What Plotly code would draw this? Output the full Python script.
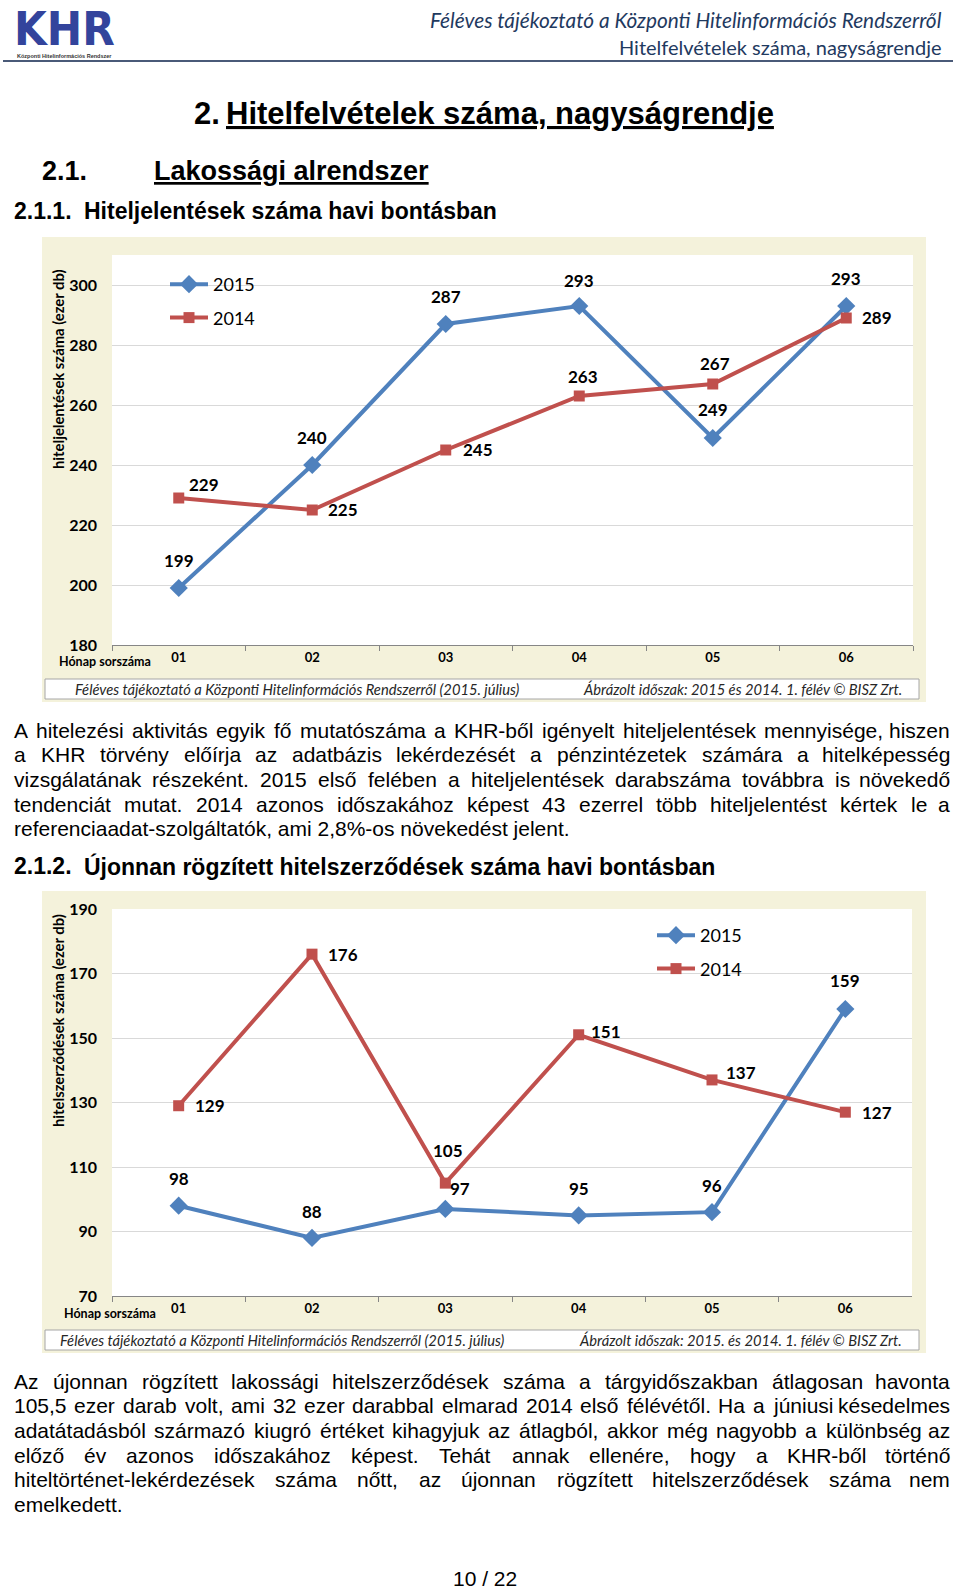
import unicodedata
import plotly.graph_objects as go

# ---------------- data ----------------
months = ['01', '02', '03', '04', '05', '06']
reports_2015 = [199, 240, 287, 293, 249, 293]
reports_2014 = [229, 225, 245, 263, 267, 289]
contracts_2015 = [98, 88, 97, 95, 96, 159]
contracts_2014 = [129, 176, 105, 151, 137, 127]
series_names = ['2015', '2014']

para1 = [
    "A hitelezési aktivitás egyik fő mutatószáma a KHR-ből igényelt hiteljelentések mennyisége, hiszen",
    "a KHR törvény előírja az adatbázis lekérdezését a pénzintézetek számára a hitelképesség",
    "vizsgálatának részeként. 2015 első felében a hiteljelentések darabszáma továbbra is növekedő",
    "tendenciát mutat. 2014 azonos időszakához képest 43 ezerrel több hiteljelentést kértek le a",
    "referenciaadat-szolgáltatók, ami 2,8%-os növekedést jelent.",
]
para2 = [
    "Az újonnan rögzített lakossági hitelszerződések száma a tárgyidőszakban átlagosan havonta",
    "105,5 ezer darab volt, ami 32 ezer darabbal elmarad 2014 első félévétől. Ha a júniusi késedelmes",
    "adatátadásból származó kiugró értéket kihagyjuk az átlagból, akkor még nagyobb a különbség az",
    "előző év azonos időszakához képest. Tehát annak ellenére, hogy a KHR-ből történő",
    "hiteltörténet-lekérdezések száma nőtt, az újonnan rögzített hitelszerződések száma nem",
    "emelkedett.",
]

# ---------------- styles / geometry ----------------
FIG_W, FIG_H = 960, 1589
BLUE, RED = '#4F81BD', '#C0504D'
BEIGE = '#F4F2DB'
CHART_FONT = 'Lato, Carlito, Calibri, sans-serif'
DOC_FONT = 'Liberation Sans, Arial, sans-serif'

# label offsets (px) for data labels: (dx, dy up)
off_r15 = [(0, 28), (0, 27), (0, 27), (0, 25), (0, 28), (0, 27)]
off_r14 = [(25, 13), (31, 0), (32, 0), (4, 19), (2, 20), (31, 0)]
off_c15 = [(0, 27), (0, 26), (15, 20), (0, 27), (0, 27), (0, 28)]
off_c14 = [(31, 0), (31, 0), (3, 33), (27, 3), (29, 7), (32, 0)]


def px(x):
    return x / FIG_W


def py(y):
    return 1 - y / FIG_H


ARIAL = {' ': 278, '!': 278, '%': 889, '(': 333, ')': 333, ',': 278, '-': 333, '.': 278,
         '/': 278, ':': 278, '©': 737}
for d in '0123456789':
    ARIAL[d] = 556
ARIAL.update(dict(zip('ABCDEFGHIJKLMNOPQRSTUVWXYZ',
                      [667, 667, 722, 722, 667, 611, 778, 722, 278, 500, 667, 556, 833, 722,
                       778, 667, 778, 722, 667, 611, 722, 667, 944, 667, 667, 611])))
ARIAL.update(dict(zip('abcdefghijklmnopqrstuvwxyz',
                      [556, 556, 500, 556, 556, 278, 556, 556, 222, 222, 500, 222, 833, 556,
                       556, 556, 556, 333, 500, 278, 556, 500, 722, 500, 500, 500])))


def text_width(s, size):
    tot = 0
    for ch in s:
        base = unicodedata.normalize('NFD', ch)[0]
        tot += ARIAL.get(ch, ARIAL.get(base, 556))
    return tot * size / 1000.0


annotations = []


def add_text(text, x, y, size, family=DOC_FONT, color='#000000', xanchor='left',
             weight='normal', style='normal', lineposition='none', angle=0, yanchor='middle'):
    annotations.append(dict(
        text=text, x=px(x), y=py(y), xref='paper', yref='paper',
        xanchor=xanchor, yanchor=yanchor, showarrow=False, textangle=angle,
        borderpad=0,
        font=dict(family=family, size=size, color=color, weight=weight,
                  style=style, lineposition=lineposition)))


def justify(line, y, left, right, size):
    words = line.split(' ')
    widths = [text_width(w, size) for w in words]
    gap = (right - left - sum(widths)) / (len(words) - 1)
    x = left
    for i, (w, wd) in enumerate(zip(words, widths)):
        if i == len(words) - 1:
            add_text(w, right, y, size, xanchor='right')
        else:
            add_text(w, x, y, size)
        x += wd + gap


# ---------------- figure ----------------
fig = go.Figure()

fig.add_trace(go.Scatter(x=months, y=reports_2015, name=series_names[0], mode='lines+markers',
                         line=dict(color=BLUE, width=4),
                         marker=dict(symbol='diamond', size=14, color=BLUE),
                         xaxis='x', yaxis='y', legend='legend', legendgroup='a'))
fig.add_trace(go.Scatter(x=months, y=reports_2014, name=series_names[1], mode='lines+markers',
                         line=dict(color=RED, width=4),
                         marker=dict(symbol='square', size=11, color=RED),
                         xaxis='x', yaxis='y', legend='legend', legendgroup='b'))
fig.add_trace(go.Scatter(x=months, y=contracts_2015, name=series_names[0], mode='lines+markers',
                         line=dict(color=BLUE, width=4),
                         marker=dict(symbol='diamond', size=14, color=BLUE),
                         xaxis='x2', yaxis='y2', legend='legend2', legendgroup='c'))
fig.add_trace(go.Scatter(x=months, y=contracts_2014, name=series_names[1], mode='lines+markers',
                         line=dict(color=RED, width=4),
                         marker=dict(symbol='square', size=11, color=RED),
                         xaxis='x2', yaxis='y2', legend='legend2', legendgroup='d'))

# data labels (category index positions)
for vals, offs, xr, yr in [(reports_2015, off_r15, 'x', 'y'), (reports_2014, off_r14, 'x', 'y'),
                           (contracts_2015, off_c15, 'x2', 'y2'),
                           (contracts_2014, off_c14, 'x2', 'y2')]:
    for i, (v, (dx, dy)) in enumerate(zip(vals, offs)):
        annotations.append(dict(text=str(v), x=i, y=v, xref=xr, yref=yr, showarrow=False,
                                xshift=dx, yshift=dy, xanchor='center', yanchor='middle',
                                font=dict(family=CHART_FONT, size=17, color='#000000',
                                          weight='bold')))

shapes = []


def rect(x0, y0, x1, y1, fill, line_color=None, lw=0):
    shapes.append(dict(type='rect', xref='paper', yref='paper', x0=px(x0), x1=px(x1),
                       y0=py(y1), y1=py(y0), fillcolor=fill, layer='below',
                       line=dict(color=line_color or fill, width=lw)))


# chart backgrounds
rect(42, 237, 926, 702, BEIGE)
rect(112, 255, 913, 645, '#FFFFFF')
rect(45, 679, 919, 699, '#FFFFFF', '#A6A6A6', 1)
rect(42, 891, 926, 1353, BEIGE)
rect(112, 909, 912, 1296, '#FFFFFF')
rect(45, 1330, 919, 1350, '#FFFFFF', '#A6A6A6', 1)

# header rule
shapes.append(dict(type='line', xref='paper', yref='paper', x0=px(3), x1=px(953),
                   y0=py(61), y1=py(61), line=dict(color='#4A5A78', width=2)))

# ---------------- page texts ----------------
# logo
add_text('KHR', 64, 0, 47, family='Liberation Sans Narrow, DejaVu Sans Condensed, Liberation Sans',
         color='#33449C', xanchor='center', weight='bold', yanchor='top')
add_text('Központi Hitelinformációs Rendszer', 64, 56, 5.5, family='Liberation Sans, Arial',
         color='#333333', xanchor='center', weight='bold')
# running header
add_text('Féléves tájékoztató a Központi Hitelinformációs Rendszerről', 943, 20, 20.8,
         family=CHART_FONT, color='#1F3A5F', xanchor='right', style='italic')
add_text('Hitelfelvételek száma, nagyságrendje', 943, 47, 20,
         family=CHART_FONT, color='#1F3A5F', xanchor='right')

# headings
add_text('2.', 193, 113, 31, weight='bold')
add_text('Hitelfelvételek száma, nagyságrendje', 225, 113, 31, weight='bold',
         lineposition='under')
add_text('2.1.', 41, 171, 27, weight='bold')
add_text('Lakossági alrendszer', 153, 171, 27, weight='bold', lineposition='under')
add_text('2.1.1.', 13, 211, 23, weight='bold')
add_text('Hiteljelentések száma havi bontásban', 83, 211, 23, weight='bold')
add_text('2.1.2.', 13, 866, 23, weight='bold')
add_text('Újonnan rögzített hitelszerződések száma havi bontásban', 83, 866, 23, weight='bold')

# paragraphs
BODY = 21
for i, line in enumerate(para1):
    yy = 730 + i * 24.7
    if i < len(para1) - 1:
        justify(line, yy, 13, 951, BODY)
    else:
        add_text(line, 13, yy, BODY)
for i, line in enumerate(para2):
    yy = 1381 + i * 24.7
    if i < len(para2) - 1:
        justify(line, yy, 13, 951, BODY)
    else:
        add_text(line, 13, yy, BODY)

add_text('10 / 22', 485, 1578, BODY, xanchor='center')

# chart texts
add_text('hiteljelentések száma (ezer db)', 58, 369, 14.8, family=CHART_FONT,
         xanchor='center', weight='bold', angle=-90)
add_text('hitelszerződések száma (ezer db)', 58, 1021, 14.8, family=CHART_FONT,
         xanchor='center', weight='bold', angle=-90)
add_text('Hónap sorszáma', 58, 661, 12.5, family=CHART_FONT, weight='bold')
add_text('Hónap sorszáma', 63, 1313, 12.5, family=CHART_FONT, weight='bold')

FOOT = 14.7
foot_left = 'Féléves tájékoztató a Központi Hitelinformációs Rendszerről (2015. július)'
add_text(foot_left, 74, 689, FOOT, family=CHART_FONT, color='#262626', style='italic')
add_text('Ábrázolt időszak: 2015 és 2014. 1. félév © BISZ Zrt.', 903, 689, FOOT,
         family=CHART_FONT, color='#262626', style='italic', xanchor='right')
add_text(foot_left, 59, 1340, FOOT, family=CHART_FONT, color='#262626', style='italic')
add_text('Ábrázolt időszak: 2015. és 2014. 1. félév © BISZ Zrt.', 903, 1340, FOOT,
         family=CHART_FONT, color='#262626', style='italic', xanchor='right')

# ---------------- axes ----------------
xcommon = dict(type='category', range=[-0.5, 5.5], tickson='boundaries', ticks='outside',
               ticklen=5, tickcolor='#868686', showline=True, linecolor='#868686',
               linewidth=1, showgrid=False, zeroline=False, fixedrange=True,
               tickfont=dict(family=CHART_FONT, size=13, color='#000000', weight='bold'))
ycommon = dict(dtick=20, showgrid=True, gridcolor='#D9D9D9', gridwidth=1, zeroline=False,
               showline=False, ticks='', ticklabelstandoff=14, fixedrange=True,
               tickfont=dict(family=CHART_FONT, size=16, color='#000000', weight='bold'))

legend_common = dict(xanchor='left', yanchor='top', bgcolor='rgba(0,0,0,0)',
                     font=dict(family=CHART_FONT, size=18, color='#000000'),
                     itemwidth=38, tracegroupgap=7, traceorder='grouped')

fig.update_layout(
    width=FIG_W, height=FIG_H,
    margin=dict(l=0, r=0, t=0, b=0, pad=0, autoexpand=False),
    paper_bgcolor='#FFFFFF', plot_bgcolor='rgba(0,0,0,0)',
    showlegend=True,
    xaxis=dict(domain=[px(112), px(913)], anchor='y', **xcommon),
    yaxis=dict(domain=[py(645), py(255)], anchor='x', range=[180, 310], tick0=180, **ycommon),
    xaxis2=dict(domain=[px(112), px(912)], anchor='y2', **xcommon),
    yaxis2=dict(domain=[py(1296), py(909)], anchor='x2', range=[70, 190], tick0=70, **ycommon),
    legend=dict(x=px(165), y=py(266), **legend_common),
    legend2=dict(x=px(652), y=py(917), **legend_common),
    shapes=shapes,
    annotations=annotations,
)

fig.write_html('out.html', config={'displayModeBar': False},
               post_script="document.body.style.margin='0';document.body.style.padding='0';")
